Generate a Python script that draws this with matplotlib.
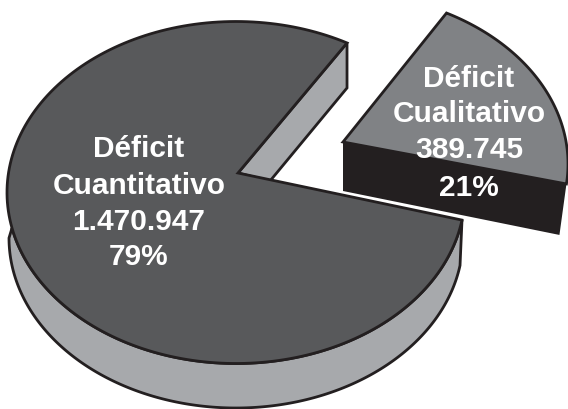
import numpy as np
import matplotlib
matplotlib.use("Agg")
import matplotlib.pyplot as plt
from matplotlib.patches import Polygon

categories = ["Déficit\nCuantitativo", "Déficit\nCualitativo"]
values = [1470947, 389745]
percent_labels = ["79%", "21%"]

W, H = 568, 409
INK = "#231f20"; TOP = "#58595b"; WALL = "#a7a9ac"; SLICE = "#808285"

fig = plt.figure(figsize=(W / 100, H / 100), dpi=100)
ax = fig.add_axes([0, 0, 1, 1])
ax.set_xlim(0, W); ax.set_ylim(H, 0); ax.axis("off")

shares = np.array(values) / sum(values)
START = 61.0
SLICE_START = 62.0
main_end = START + shares[0] * 360 * 1.018      # foreshortened sweep
slice_end = SLICE_START - shares[1] * 360 * 0.911


def arc(cx, cy, a, b, t0, t1, n=200):
    t = np.radians(np.linspace(t0, t1, n))
    return np.column_stack([cx + a * np.cos(t), cy - b * np.sin(t)])


top = (236, 192.5, 229, 171)
bottom = (236, 238, 227, 170)
tip = np.array([238, 173])
lw = 2.0
kw = dict(edgecolor=INK, linewidth=lw, joinstyle="miter")

# outer wall of the large slice
wall = np.vstack([arc(*top, 192, main_end), arc(*bottom, main_end, 180)])
ax.add_patch(Polygon(wall, closed=True, facecolor=WALL, **kw))

# inner wall seen through the notch
A = arc(*top, START, START, 1)[0]
inner = np.array([tip, [270, 181], [A[0], A[1] + 45], A])
ax.add_patch(Polygon(inner, closed=True, facecolor=WALL, **kw))

# top face of the large slice
face = np.vstack([[tip], arc(*top, START, main_end)])
ax.add_patch(Polygon(face, closed=True, facecolor=TOP, **kw))

# exploded slice
sc = (339, 164, 229, 171)
s_tip = np.array([343, 142])
s_arc = arc(*sc, SLICE_START, slice_end)
D = s_arc[-1]
side = np.array([s_tip, D, [D[0] - 7, D[1] + 51], [s_tip[0], s_tip[1] + 49]])
ax.add_patch(Polygon(side, closed=True, facecolor=INK, edgecolor="none"))
ax.add_patch(Polygon(np.vstack([[s_tip], s_arc]), closed=True, facecolor=SLICE, **kw))

font = dict(family="Liberation Sans", weight="bold", color="white",
            ha="center", va="center")


def fmt(v):
    return f"{v:,}".replace(",", ".")


big = categories[0].split("\n") + [fmt(values[0]), percent_labels[0]]
for s, y in zip(big, [149, 186, 222, 257]):
    ax.text(139, y, s, fontsize=21.5, **font)
small = categories[1].split("\n") + [fmt(values[1]), percent_labels[1]]
for s, y in zip(small, [79, 114, 150, 188]):
    ax.text(469, y, s, fontsize=21.5, **font)

fig.savefig("out.png", dpi=100)
